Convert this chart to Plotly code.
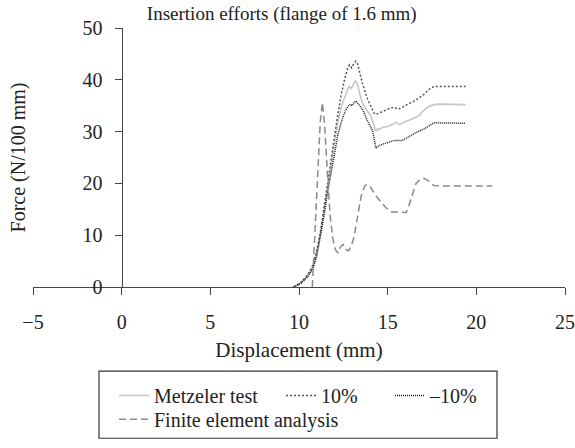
import plotly.graph_objects as go

# ---- data ----
metz_x = [9.7, 10.1, 10.5, 10.8, 11.0, 11.2, 11.4, 11.6, 11.8, 12.0, 12.2, 12.4, 12.6, 12.75, 12.85, 12.93,
          13.0, 13.1, 13.2, 13.3, 13.45, 13.57, 13.8, 14.04, 14.2, 14.33, 14.45, 14.55, 14.7, 15.0, 15.3,
          15.5, 15.65, 15.9, 16.2, 16.5, 16.75, 17.0, 17.3, 17.6, 17.9, 19.4]
metz_y = [0, 0.8, 2.2, 4.0, 6.5, 10.0, 14.5, 19.0, 23.5, 28.0, 32.0, 35.0, 37.0, 38.2, 38.8, 38.3,
          38.6, 39.4, 39.8, 39.2, 37.0, 35.6, 34.2, 33.1, 31.5, 30.0, 30.6, 30.4, 30.8, 31.0, 31.4,
          31.8, 31.3, 31.8, 32.2, 32.6, 33.0, 34.0, 34.8, 35.2, 35.3, 35.2]

plus_x = [9.7, 10.1, 10.5, 10.8, 11.0, 11.2, 11.4, 11.6, 11.8, 12.0, 12.2, 12.4, 12.6, 12.75, 12.85, 12.97,
          13.1, 13.2, 13.3, 13.45, 13.57, 13.86, 14.05, 14.23, 14.33, 14.5, 14.8, 15.1, 15.36, 15.6,
          15.83, 16.2, 16.49, 16.8, 17.05, 17.35, 17.6, 19.4]
plus_y = [0, 0.8, 2.4, 4.3, 7.0, 10.5, 15.0, 20.0, 24.5, 29.0, 33.5, 37.5, 40.5, 42.3, 42.9, 42.3,
          43.2, 43.6, 43.1, 41.0, 39.4, 36.3, 34.8, 33.6, 33.3, 33.6, 34.0, 34.5, 34.7, 34.3,
          34.7, 35.4, 35.9, 36.6, 37.2, 38.2, 38.7, 38.7]

minus_x = [9.7, 10.1, 10.5, 10.8, 11.0, 11.2, 11.4, 11.6, 11.8, 12.0, 12.2, 12.4, 12.63, 12.8, 12.91, 13.0,
           13.1, 13.2, 13.3, 13.45, 13.57, 13.86, 14.14, 14.25, 14.33, 14.5, 14.8, 15.1, 15.36, 15.83,
           16.3, 16.7, 17.05, 17.35, 17.6, 19.4]
minus_y = [0, 0.7, 2.0, 3.7, 6.0, 9.5, 13.5, 18.0, 22.0, 26.0, 29.5, 32.0, 34.2, 35.0, 35.3, 35.0,
           35.6, 35.9, 35.5, 34.8, 34.4, 32.1, 30.2, 28.5, 26.8, 27.3, 27.7, 28.0, 28.3, 28.3,
           29.3, 30.0, 30.5, 31.2, 31.7, 31.6]

fe_x = [10.75, 10.9, 11.05, 11.2, 11.32, 11.45, 11.6, 11.75, 11.9, 12.05, 12.2, 12.35, 12.5, 12.65, 12.8,
        12.95, 13.1, 13.3, 13.5, 13.7, 13.85, 14.05, 14.3, 14.6, 14.9, 15.2, 15.6, 16.05, 16.2, 16.4,
        16.6, 16.85, 17.05, 17.3, 17.6, 18.0, 20.9]
fe_y = [0, 10.0, 22.0, 32.0, 35.6, 31.0, 22.0, 14.0, 9.5, 7.2, 6.6, 7.8, 8.2, 7.2, 7.0,
        8.0, 9.6, 13.5, 17.5, 19.5, 19.8, 19.2, 17.8, 16.5, 15.3, 14.5, 14.5, 14.4, 15.8, 17.8,
        20.0, 20.8, 21.0, 20.5, 19.6, 19.5, 19.5]

x_ticks = [-5, 0, 5, 10, 15, 20, 25]
y_ticks = [0, 10, 20, 30, 40, 50]

FONT = "Liberation Serif"
TXT = "#222222"
AX = "#444444"

fig = go.Figure()
fig.add_trace(go.Scatter(x=metz_x, y=metz_y, mode="lines", name="Metzeler test",
                         line=dict(color="#c6c6c6", width=1.6), legend="legend", legendwidth=122))
fig.add_trace(go.Scatter(x=plus_x, y=plus_y, mode="lines", name="10%",
                         line=dict(color="#555555", width=1.5, dash="2px,2px"), legend="legend", legendwidth=64))
fig.add_trace(go.Scatter(x=minus_x, y=minus_y, mode="lines", name="–10%",
                         line=dict(color="#1a1a1a", width=1.5, dash="1px,1px"), legend="legend"))
fig.add_trace(go.Scatter(x=fe_x, y=fe_y, mode="lines", name="Finite element analysis",
                         line=dict(color="#8a8a8a", width=1.5, dash="7px,4px"), legend="legend2"))

fig.update_layout(
    width=575, height=448,
    margin=dict(l=33, r=10, t=28, b=158),
    paper_bgcolor="white", plot_bgcolor="white",
    font=dict(family=FONT, size=20, color=TXT),
    title=dict(text="Insertion efforts (flange of 1.6 mm)", font=dict(size=19, family=FONT, color=TXT),
               x=0.49, xref="container", xanchor="center", y=1 - 13 / 448, yref="container", yanchor="middle"),
    xaxis=dict(range=[-5, 25], tickvals=x_ticks, showgrid=False, zeroline=False,
               showline=True, linecolor=AX, linewidth=1.2, ticks="outside", ticklen=7,
               tickcolor=AX, tickwidth=1.2, ticklabelstandoff=10,
               title=dict(text="Displacement (mm)", standoff=10, font=dict(size=21, family=FONT)),
               tickfont=dict(size=20, family=FONT), automargin=False),
    yaxis=dict(range=[0, 50], tickvals=y_ticks, showgrid=False, zeroline=False,
               anchor="free", position=5 / 30,
               showline=True, linecolor=AX, linewidth=1.2, ticks="outside", ticklen=7,
               tickcolor=AX, tickwidth=1.2, ticklabelstandoff=8,
               title=dict(text="Force (N/100 mm)", standoff=50, font=dict(size=20, family=FONT)),
               tickfont=dict(size=20, family=FONT), automargin=False),
    legend=dict(orientation="h", x=(114 - 33) / 532, xanchor="left", y=(290 - 380) / 262, yanchor="top",
                borderwidth=0, bgcolor="rgba(0,0,0,0)", font=dict(size=20, family=FONT, color=TXT),
                itemwidth=30, tracegroupgap=0),
    legend2=dict(orientation="h", x=(114 - 33) / 532, xanchor="left", y=(290 - 404) / 262, yanchor="top",
                 borderwidth=0, bgcolor="rgba(0,0,0,0)", font=dict(size=20, family=FONT, color=TXT),
                 itemwidth=30),
    shapes=[dict(type="rect", xref="paper", yref="paper",
                 x0=(99 - 33) / 532, x1=(497 - 33) / 532,
                 y0=(290 - 443) / 262, y1=(290 - 375) / 262,
                 line=dict(color="#333333", width=1.2), fillcolor="rgba(0,0,0,0)")],
    showlegend=True,
)

fig.write_html("out.html")
